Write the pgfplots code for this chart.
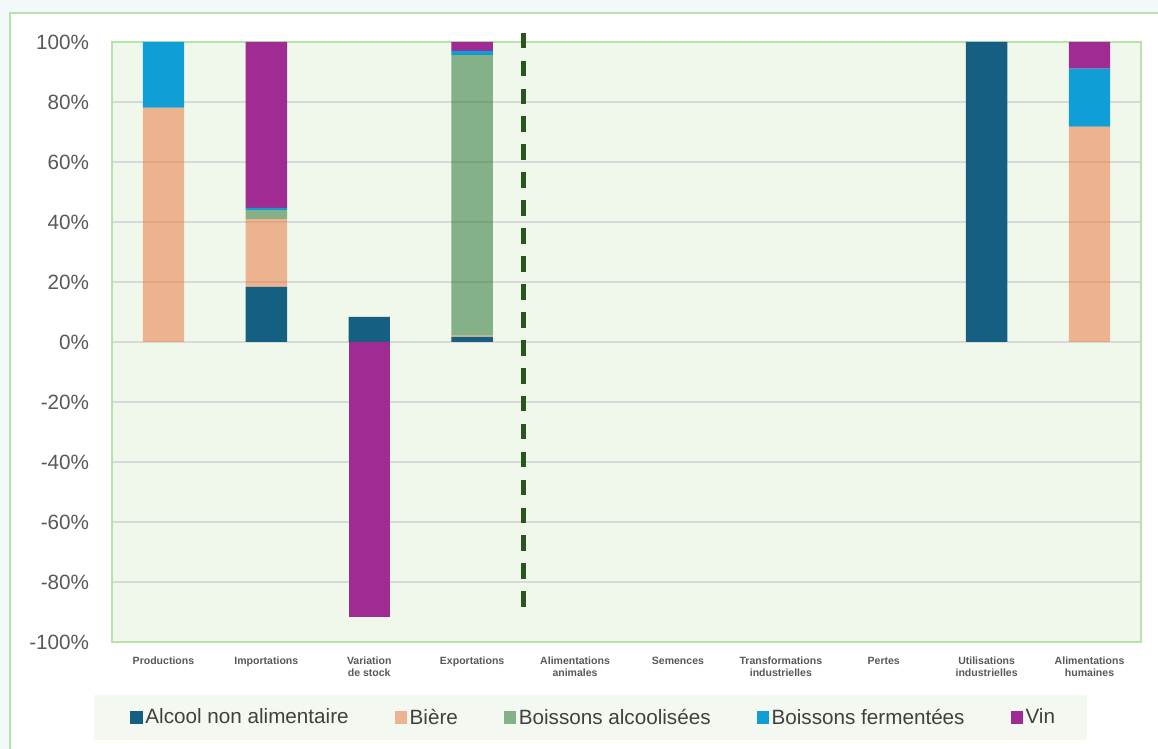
\documentclass[border=0pt]{standalone}
\usepackage{pgfplots}
\pgfplotsset{compat=1.18}
\usepackage{fontspec}
\setmainfont{Liberation Sans}
\definecolor{alcool}{HTML}{156082}
\definecolor{biere}{HTML}{E97132}
\definecolor{balc}{HTML}{196B24}
\definecolor{bferm}{HTML}{0F9ED5}
\definecolor{vin}{HTML}{A02B93}
\definecolor{gridc}{HTML}{D9D9D9}
\definecolor{plotbg}{HTML}{F0F8EC}
\definecolor{borderc}{HTML}{B5E3A9}
\definecolor{dashc}{HTML}{29561E}
\definecolor{outerbg}{HTML}{F3F8F8}
\definecolor{legbg}{HTML}{F3F9F1}
\definecolor{tickc}{HTML}{595959}
\definecolor{legtext}{HTML}{404040}
\begin{document}
\begin{tikzpicture}
\path[use as bounding box] (-84pt,-80.25pt) rectangle (784.5pt,481.5pt);
\fill[outerbg] (-84pt,-80.25pt) rectangle (784.5pt,481.5pt);
\fill[white] (-76.5pt,-100pt) rectangle (800pt,472pt);
\draw[borderc, line width=1.5pt] (-76.5pt,-100pt) -- (-76.5pt,472pt) -- (800pt,472pt);
\fill[legbg] (-13.5pt,-73.5pt) rectangle (731.25pt,-39.75pt);
\begin{axis}[
  scale only axis,
  width=771.75pt, height=450pt,
  xmin=-0.5, xmax=9.5, ymin=-100, ymax=100,
  ybar stacked, bar width=31pt,
  axis background/.style={fill=plotbg},
  axis line style={draw=borderc, line width=1.5pt},
  major tick length=0pt,
  ymajorgrids, grid style={gridc, line width=1.1pt},
  xtick={0,...,9},
  xticklabels={Productions, Importations, Variation\\de stock, Exportations, Alimentations\\animales, Semences, Transformations\\industrielles, Pertes, Utilisations\\industrielles, Alimentations\\humaines},
  xticklabel style={align=center, font=\bfseries\fontsize{7.9}{9}\selectfont, text=tickc, inner sep=0pt, anchor=north, yshift=-11pt},
  ytick={-100,-80,-60,-40,-20,0,20,40,60,80,100},
  yticklabels={-100\%,-80\%,-60\%,-40\%,-20\%,0\%,20\%,40\%,60\%,80\%,100\%},
  yticklabel style={font=\fontsize{15.5}{18}\selectfont, text=tickc, inner sep=0pt, anchor=east, xshift=-17pt},
  legend image code/.code={\fill[#1] (-2pt,-4.6pt) rectangle (7.2pt,4.6pt);},
  legend style={at={(0.4685,-0.1258)}, anchor=center, draw=none, fill=none,
    font=\fontsize{15.5}{18}\selectfont, text=legtext,
    /tikz/every even column/.append style={column sep=32.5pt},
    nodes={inner xsep=2pt}},
  legend columns=5,
]
\addplot[fill=alcool, draw=none] coordinates {(0,0) (1,18.4) (2,8.4) (3,1.7) (4,0) (5,0) (6,0) (7,0) (8,100) (9,0)};
\addlegendentry{Alcool non alimentaire}
\addplot[fill=biere, fill opacity=0.5, draw=none] coordinates {(0,78.1) (1,22.6) (2,0) (3,0.4) (4,0) (5,0) (6,0) (7,0) (8,0) (9,71.8)};
\addlegendentry{Bière}
\addplot[fill=balc, fill opacity=0.5, draw=none] coordinates {(0,0) (1,3.0) (2,0) (3,93.6) (4,0) (5,0) (6,0) (7,0) (8,0) (9,0)};
\addlegendentry{Boissons alcoolisées}
\addplot[fill=bferm, draw=none] coordinates {(0,21.9) (1,0.7) (2,0) (3,1.3) (4,0) (5,0) (6,0) (7,0) (8,0) (9,19.3)};
\addlegendentry{Boissons fermentées}
\addplot[fill=vin, draw=none] coordinates {(0,0) (1,55.3) (2,0) (3,3.0) (4,0) (5,0) (6,0) (7,0) (8,0) (9,8.9)};
\addlegendentry{Vin}
\end{axis}
\begin{axis}[
  scale only axis,
  width=771.75pt, height=450pt,
  xmin=-0.5, xmax=9.5, ymin=-100, ymax=100,
  hide axis, clip=false,
]
\addplot[ybar, bar width=31pt, bar shift=0pt, fill=vin, draw=none] coordinates {(2,-91.7)};
\addplot[dashc, line width=3.2pt, dash pattern=on 11.75pt off 9.2pt, no marks] coordinates {(3.5,103.1) (3.5,-88.8)};
\end{axis}
\end{tikzpicture}
\end{document}
